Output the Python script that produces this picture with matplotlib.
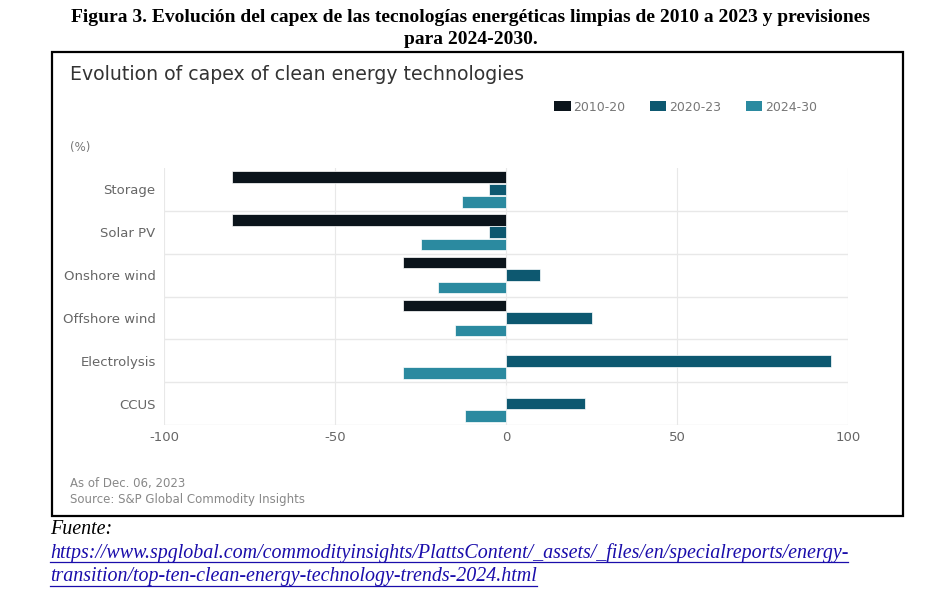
import matplotlib
matplotlib.use("Agg")
import matplotlib.pyplot as plt
from matplotlib.patches import Rectangle, Patch
from matplotlib.lines import Line2D

plt.rcParams["axes.unicode_minus"] = False

# data (% change in capex)
techs = ["Storage", "Solar PV", "Onshore wind", "Offshore wind", "Electrolysis", "CCUS"]
periods = ["2010-20", "2020-23", "2024-30"]
capex_2010_20 = [-80, -80, -30, -30, 0, 0]
capex_2020_23 = [-5, -5, 10, 25, 95, 23]
capex_2024_30 = [-13, -25, -20, -15, -30, -12]
colors = ["#0b141b", "#0d5870", "#2b8aa0"]

W, H = 941, 601
fig = plt.figure(figsize=(W / 100, H / 100), dpi=100)


def fx(px):
    return px / W


def fy(py):
    return 1 - py / H


# spanish caption on top
fig.text(0.5, fy(17), "Figura 3. Evolución del capex de las tecnologías energéticas limpias de 2010 a 2023 y previsiones",
         ha="center", va="center", fontsize=14, fontweight="bold", family="Liberation Serif")
fig.text(0.5, fy(40), "para 2024-2030.", ha="center", va="center",
         fontsize=14, fontweight="bold", family="Liberation Serif")

# frame around the embedded chart
fig.patches.append(Rectangle((fx(52), fy(516)), fx(903) - fx(52), fy(52) - fy(516),
                             transform=fig.transFigure, fill=False, lw=1.6, ec="black"))

fig.text(fx(70), fy(75), "Evolution of capex of clean energy technologies",
         ha="left", va="center", fontsize=13.6, color="#333333")
fig.text(fx(70), fy(147), "(%)", ha="left", va="center", fontsize=8.5, color="#777777")

ax = fig.add_axes([fx(164), fy(425), fx(848) - fx(164), fy(168) - fy(425)])
pos = list(range(len(techs)))
h = 0.27
off = 0.29
series = [capex_2010_20, capex_2020_23, capex_2024_30]
for k, vals in enumerate(series):
    ax.barh([p + (k - 1) * off for p in pos], vals, height=h, color=colors[k],
            edgecolor="white", linewidth=0.5, zorder=3)

ax.set_xlim(-100, 100)
ax.set_ylim(5.5, -0.5)
ax.set_xticks([-100, -50, 0, 50, 100])
ax.set_yticks(pos)
ax.set_yticklabels(techs)
for x in [-100, -50, 0, 50, 100]:
    ax.axvline(x, color="#e8e8e8", lw=0.8, zorder=1)
for y in [0.5, 1.5, 2.5, 3.5, 4.5, 5.5]:
    ax.axhline(y, color="#e8e8e8", lw=1.0, zorder=1)
for s in ax.spines.values():
    s.set_visible(False)
ax.tick_params(length=0, labelsize=9.5, labelcolor="#666666")
ax.tick_params(axis="y", pad=6)
ax.tick_params(axis="x", pad=4)

handles = [Patch(facecolor=c, edgecolor="none") for c in colors]
fig.legend(handles, periods, loc="center left", bbox_to_anchor=(fx(543), fy(107)),
           ncol=3, frameon=False, fontsize=9, labelcolor="#777777",
           handlelength=1.3, handleheight=0.8, handletextpad=0.2, columnspacing=2.0)

fig.text(fx(70), fy(484), "As of Dec. 06, 2023", ha="left", va="center", fontsize=8.5, color="#888888")
fig.text(fx(70), fy(499), "Source: S&P Global Commodity Insights", ha="left", va="center",
         fontsize=8.5, color="#888888")

# source below the frame
fig.text(fx(50), fy(530), "Fuente:", ha="left", va="center", fontsize=14.4,
         style="italic", family="Liberation Serif")
links = [
    "https://www.spglobal.com/commodityinsights/PlattsContent/_assets/_files/en/specialreports/energy-",
    "transition/top-ten-clean-energy-technology-trends-2024.html",
]
link_texts = []
for i, line in enumerate(links):
    t = fig.text(fx(50), fy(553 + 24 * i), line, ha="left", va="center", fontsize=14.4,
                 style="italic", family="Liberation Serif", color="#1a0dab")
    link_texts.append(t)

# underline the link lines
fig.canvas.draw()
r = fig.canvas.get_renderer()
for t in link_texts:
    bb = t.get_window_extent(renderer=r)
    yline = bb.y0 + 1
    fig.add_artist(Line2D([bb.x0 / W, bb.x1 / W], [yline / H, yline / H],
                          transform=fig.transFigure, color="#1a0dab", lw=0.9))

fig.savefig("out.png", dpi=100)
